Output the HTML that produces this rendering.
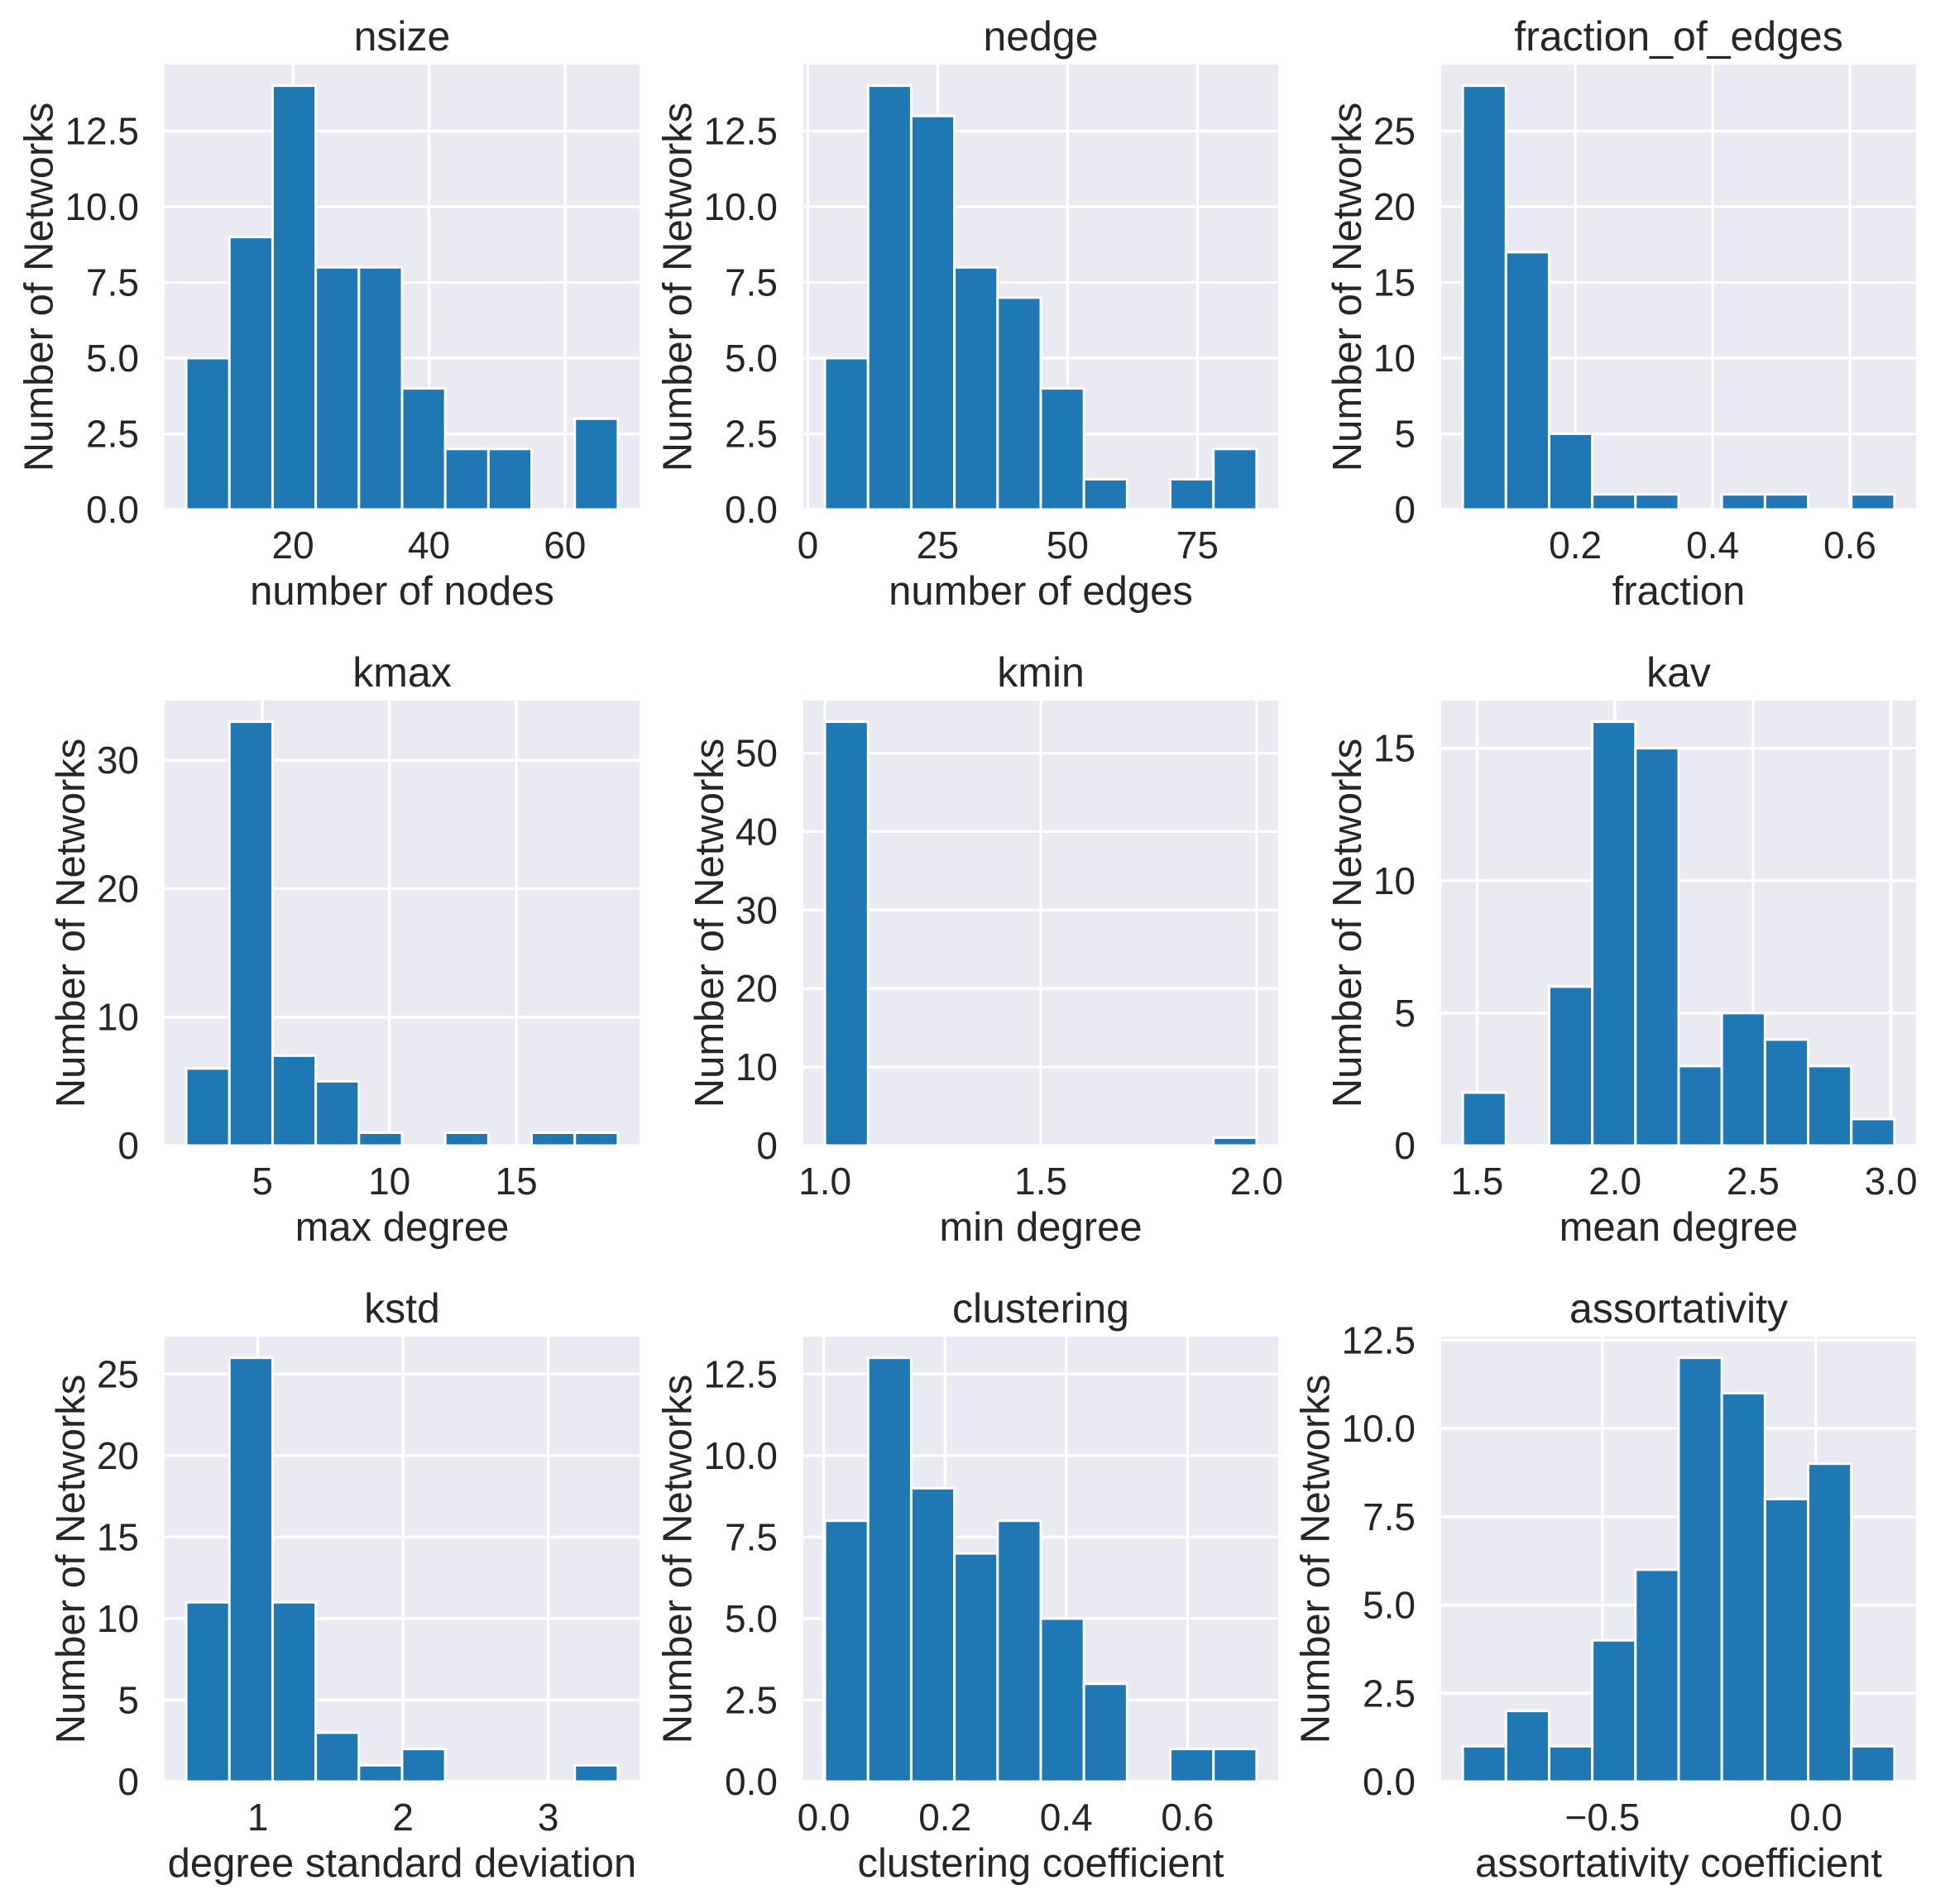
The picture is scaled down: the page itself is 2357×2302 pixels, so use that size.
<!DOCTYPE html>
<html><head><meta charset="utf-8">
<style>
html,body{margin:0;padding:0;background:#fff;}
svg{display:block;}
text{font-family:"Liberation Sans",Arial,sans-serif;fill:#262626;}
</style></head>
<body>
<svg id="fig" width="2357" height="2302" viewBox="0 0 2357 2302" xmlns="http://www.w3.org/2000/svg"></svg>
<script>
// ---- data ----
const nsizeCounts = [5, 9, 14, 8, 8, 4, 2, 2, 0, 3];
const nsizeRange = [4.3, 67.8];
const nsizeXTicks = [20, 40, 60];
const nsizeYTicks = [0, 2.5, 5, 7.5, 10, 12.5];

const nedgeCounts = [5, 14, 13, 8, 7, 4, 1, 0, 1, 2];
const nedgeRange = [3.3, 86.4];
const nedgeXTicks = [0, 25, 50, 75];
const nedgeYTicks = [0, 2.5, 5, 7.5, 10, 12.5];

const fracCounts = [28, 17, 5, 1, 1, 0, 1, 1, 0, 1];
const fracRange = [0.036, 0.665];
const fracXTicks = [0.2, 0.4, 0.6];
const fracYTicks = [0, 5, 10, 15, 20, 25];

const kmaxCounts = [6, 33, 7, 5, 1, 0, 1, 0, 1, 1];
const kmaxRange = [2, 19];
const kmaxXTicks = [5, 10, 15];
const kmaxYTicks = [0, 10, 20, 30];

const kminCounts = [54, 0, 0, 0, 0, 0, 0, 0, 0, 1];
const kminRange = [1, 2];
const kminXTicks = [1.0, 1.5, 2.0];
const kminYTicks = [0, 10, 20, 30, 40, 50];

const kavCounts = [2, 0, 6, 16, 15, 3, 5, 4, 3, 1];
const kavRange = [1.448, 3.013];
const kavXTicks = [1.5, 2.0, 2.5, 3.0];
const kavYTicks = [0, 5, 10, 15];

const kstdCounts = [11, 26, 11, 3, 1, 2, 0, 0, 0, 1];
const kstdRange = [0.507, 3.48];
const kstdXTicks = [1, 2, 3];
const kstdYTicks = [0, 5, 10, 15, 20, 25];

const clustCounts = [8, 13, 9, 7, 8, 5, 3, 0, 1, 1];
const clustRange = [0.002, 0.714];
const clustXTicks = [0.0, 0.2, 0.4, 0.6];
const clustYTicks = [0, 2.5, 5, 7.5, 10, 12.5];

const assortCounts = [1, 2, 1, 4, 6, 12, 11, 8, 9, 1];
const assortRange = [-0.827, 0.184];
const assortXTicks = [-0.5, 0.0];
const assortYTicks = [0, 2.5, 5, 7.5, 10, 12.5];

const titles = ["nsize","nedge","fraction_of_edges","kmax","kmin","kav","kstd","clustering","assortativity"];
const xlabels = ["number of nodes","number of edges","fraction","max degree","min degree","mean degree","degree standard deviation","clustering coefficient","assortativity coefficient"];

const panels = [
  {counts:nsizeCounts, range:nsizeRange, xt:nsizeXTicks, yt:nsizeYTicks, xd:0, yd:1},
  {counts:nedgeCounts, range:nedgeRange, xt:nedgeXTicks, yt:nedgeYTicks, xd:0, yd:1},
  {counts:fracCounts, range:fracRange, xt:fracXTicks, yt:fracYTicks, xd:1, yd:0},
  {counts:kmaxCounts, range:kmaxRange, xt:kmaxXTicks, yt:kmaxYTicks, xd:0, yd:0},
  {counts:kminCounts, range:kminRange, xt:kminXTicks, yt:kminYTicks, xd:1, yd:0},
  {counts:kavCounts, range:kavRange, xt:kavXTicks, yt:kavYTicks, xd:1, yd:0},
  {counts:kstdCounts, range:kstdRange, xt:kstdXTicks, yt:kstdYTicks, xd:0, yd:0},
  {counts:clustCounts, range:clustRange, xt:clustXTicks, yt:clustYTicks, xd:1, yd:1},
  {counts:assortCounts, range:assortRange, xt:assortXTicks, yt:assortYTicks, xd:1, yd:1}
];

const NS = "http://www.w3.org/2000/svg";
const fig = document.getElementById('fig');
const colLeft = [199, 971, 1742];
const rowTop = [78, 847, 1616];
const AW = 574, AH = 538;

function mk(tag, attrs, parent){
  const e = document.createElementNS(NS, tag);
  for (const k in attrs) e.setAttribute(k, attrs[k]);
  parent.appendChild(e);
  return e;
}
function fmt(v, d){
  const s = v.toFixed(d);
  return s.startsWith('-') ? '\u2212' + s.slice(1) : s;
}

panels.forEach((p, i) => {
  const L = colLeft[i % 3], T = rowTop[Math.floor(i / 3)];
  const B = T + AH, R = L + AW;
  const g = mk('g', {}, fig);
  
  
  const [mn, mx] = p.range;
  const span = mx - mn;
  const x0 = mn - 0.05 * span, x1 = mx + 0.05 * span;
  const ymax = Math.max(...p.counts) * 1.05;
  const sx = v => L + (v - x0) / (x1 - x0) * AW;
  const sy = v => B - v / ymax * AH;

  const bg = mk('rect', {x:L, y:T, width:AW, height:AH, fill:'#eaeaf2'}, g);
  
  

  p.yt.forEach(v => {
    const ln = mk('line', {x1:L, x2:R, y1:sy(v), y2:sy(v), stroke:'#fff', 'stroke-width':3.2}, g);
    
    
  });
  p.xt.forEach(v => {
    const ln = mk('line', {x1:sx(v), x2:sx(v), y1:T, y2:B, stroke:'#fff', 'stroke-width':3.2}, g);
    
    
  });

  const bw = span / p.counts.length;
  p.counts.forEach((c, k) => {
    if (c <= 0) return;
    const a = mn + k * bw, b = a + bw;
    const r = mk('rect', {x:sx(a), y:sy(c), width:sx(b) - sx(a), height:B - sy(c), fill:'#1f77b4', stroke:'#fff', 'stroke-width':3}, g);
    
    
  });

  p.xt.forEach(v => {
    const t = mk('text', {x:sx(v), y:B + 59, 'font-size':46, 'text-anchor':'middle'}, g);
    t.textContent = fmt(v, p.xd);
    
    
  });
  let maxW = 0;
  p.yt.forEach(v => {
    const t = mk('text', {x:L - 31, y:sy(v) + 16, 'font-size':46, 'text-anchor':'end'}, g);
    t.textContent = fmt(v, p.yd);
    
    
    maxW = Math.max(maxW, t.getComputedTextLength());
  });

  const ti = mk('text', {x:L + AW / 2, y:T - 17, 'font-size':50, 'text-anchor':'middle'}, g);
  ti.textContent = titles[i];
  
  

  const xl = mk('text', {x:L + AW / 2, y:B + 115, 'font-size':49, 'text-anchor':'middle'}, g);
  xl.textContent = xlabels[i];
  
  

  const yx = L - 31 - maxW - 15;
  const yc = T + AH / 2;
  const yl = mk('text', {x:yx, y:yc, 'font-size':49, 'text-anchor':'middle', transform:'rotate(-90 ' + yx + ' ' + yc + ')'}, g);
  yl.textContent = 'Number of Networks';
  
  
});
</script>
</body></html>
